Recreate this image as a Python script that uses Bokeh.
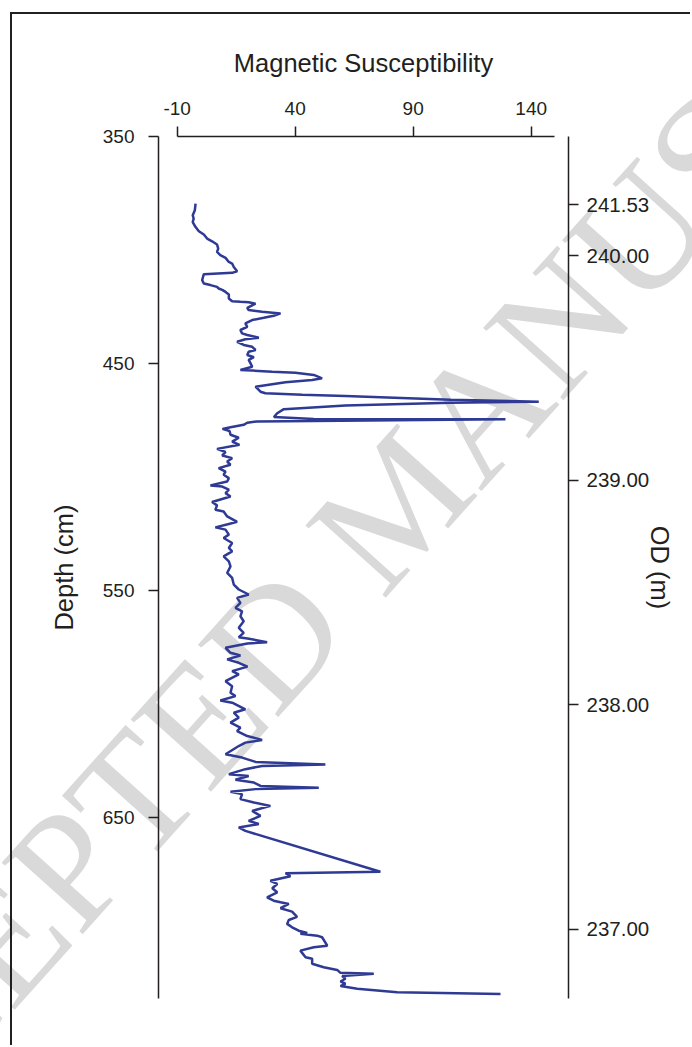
from bokeh.plotting import figure
from bokeh.models import Range1d, LinearAxis, FixedTicker, InlineStyleSheet
from bokeh.embed import file_html
from bokeh.resources import INLINE

# ---- data ----
depth_cm = [379.6, 382.5, 384.7, 386.2, 387.7, 389.9, 391.8, 393.2, 395.0, 396.2,
            397.6, 399.4, 400.9, 402.3, 403.5, 405.3, 406.0, 407.5, 409.4, 410.1,
            410.7, 413.3, 414.8, 415.5, 416.3, 417.0, 417.6, 418.5, 419.6, 421.4,
            422.6, 422.9, 423.1, 423.7, 425.5, 426.5, 427.3, 428.0, 429.0, 429.9,
            430.9, 432.4, 433.9, 435.3, 436.8, 437.5, 438.7, 439.4, 440.5, 441.9,
            442.7, 444.1, 444.9, 446.3, 447.3, 448.5, 450.0, 451.5, 452.9, 453.2,
            453.7, 454.1, 455.1, 456.6, 457.3, 458.3, 460.3, 462.5, 463.2, 463.9,
            464.4, 466.1, 466.9, 467.4, 468.6, 470.2, 472.0, 473.7, 474.5, 474.7,
            475.6, 476.2, 477.1, 478.2, 478.9, 479.8, 481.5, 482.8, 484.5, 485.9,
            487.7, 489.1, 490.6, 491.8, 493.3, 494.7, 496.2, 497.7, 499.1, 500.6,
            502.1, 503.8, 504.3, 505.7, 507.2, 508.7, 511.1, 512.6, 514.5, 515.3,
            517.5, 519.9, 520.8, 522.3, 523.3, 525.5, 527.0, 529.2, 531.4, 532.9,
            535.1, 537.3, 539.5, 542.4, 544.6, 547.5, 549.7, 551.9, 553.4, 555.6,
            557.8, 559.3, 561.5, 563.7, 566.6, 568.8, 570.7, 571.3, 572.9, 573.5,
            575.4, 577.6, 578.8, 580.5, 582.0, 583.7, 585.7, 587.1, 590.1, 592.3,
            595.2, 596.7, 598.6, 599.6, 602.5, 604.0, 606.2, 608.4, 610.6, 612.1,
            614.3, 616.0, 617.2, 618.7, 622.3, 623.8, 625.7, 626.8, 627.5, 628.9,
            631.1, 631.9, 633.6, 634.8, 636.3, 637.1, 637.7, 638.9, 639.9, 642.1,
            643.6, 645.1, 647.3, 649.5, 651.7, 653.1, 654.6, 656.1, 674.1, 674.8,
            676.1, 678.1, 679.5, 681.4, 683.2, 685.4, 686.9, 687.6, 688.3, 690.2,
            691.7, 694.0, 695.4, 697.1, 698.6, 700.1, 701.1, 701.5, 702.3, 703.0,
            706.7, 707.4, 708.9, 711.8, 712.5, 714.7, 716.2, 717.4, 718.7, 719.1,
            720.1, 721.3, 722.5, 723.5, 724.5, 725.7, 727.2, 728.0]

mag_sus = [-2.2, -2.5, -3.4, -3.0, -3.4, -2.2, -0.8, 1.3, 2.7, 4.8,
           6.9, 7.4, 6.9, 8.3, 10.5, 11.9, 13.3, 14.0, 15.4, 13.3,
           1.3, 0.6, 1.3, 4.1, 6.9, 7.6, 9.1, 10.5, 11.9, 11.9,
           13.3, 16.8, 20.3, 23.2, 19.7, 20.3, 26.0, 33.8, 30.9, 26.7,
           21.8, 18.9, 19.7, 16.8, 17.5, 19.7, 24.6, 18.9, 15.4, 18.2,
           21.8, 23.2, 20.3, 19.7, 22.5, 20.3, 21.1, 21.8, 16.8, 21.8,
           30.3, 40.1, 47.9, 51.4, 47.2, 35.9, 23.2, 25.3, 27.4, 43.0,
           61.3, 105.8, 143.2, 105.8, 61.3, 35.2, 32.4, 31.0, 47.9, 129.1,
           23.9, 19.7, 18.2, 12.6, 9.2, 12.2, 12.6, 16.1, 13.3, 16.4,
           6.9, 10.5, 9.1, 13.3, 11.2, 12.6, 7.6, 10.5, 9.7, 11.9,
           11.2, 4.1, 9.1, 11.9, 10.5, 12.6, 4.8, 6.9, 6.2, 9.7,
           11.2, 15.4, 11.9, 6.2, 10.5, 11.9, 9.7, 13.3, 11.9, 13.3,
           9.7, 11.9, 12.6, 11.2, 13.3, 14.0, 16.1, 20.3, 15.4, 16.8,
           14.7, 17.5, 16.8, 18.2, 16.1, 18.2, 16.1, 19.8, 28.1, 19.8,
           10.5, 12.6, 16.8, 11.2, 16.1, 19.8, 13.3, 16.1, 10.5, 13.3,
           12.6, 14.7, 8.3, 13.3, 18.9, 14.0, 16.1, 12.6, 16.8, 15.4,
           19.7, 26.0, 18.9, 16.1, 10.5, 17.5, 23.2, 52.8, 26.0, 18.9,
           11.9, 20.3, 14.7, 22.5, 25.3, 50.0, 23.2, 12.6, 17.5, 16.8,
           22.5, 29.5, 21.8, 25.3, 20.3, 24.6, 16.1, 18.9, 76.1, 35.9,
           38.0, 29.5, 32.4, 30.3, 32.4, 28.1, 30.9, 33.8, 37.3, 33.8,
           38.7, 40.8, 37.3, 36.6, 38.7, 41.5, 45.1, 42.2, 49.3, 51.4,
           53.6, 47.9, 42.2, 44.4, 47.2, 47.2, 52.1, 57.8, 59.2, 73.3,
           59.9, 61.3, 59.2, 61.3, 59.2, 66.3, 83.2, 127.0]

depth_ticks = [350, 450, 550, 650]
ms_ticks = [-10, 40, 90, 140]
od_tick_depths = [380.0, 402.5, 501.5, 600.5, 699.5]
od_tick_labels = ["241.53", "240.00", "239.00", "238.00", "237.00"]
watermark_text = "ACCEPTED MANUSCRIPT"

INK = "#231f20"
FONT = "Liberation Sans"

p = figure(width=680, height=1033,
           x_range=Range1d(-17.9, 155.8), y_range=Range1d(730, 350),
           x_axis_location="above", y_axis_location="left",
           toolbar_location=None, output_backend="svg",
           min_border_left=146, min_border_right=124,
           min_border_top=122, min_border_bottom=49)
p.grid.visible = False
p.outline_line_color = None
p.background_fill_color = None
p.border_fill_color = None
p.styles = {"margin-left": "10px", "margin-top": "12px", "position": "relative",
            "border-top": "2px solid #231f20", "border-left": "2px solid #231f20"}

# watermark of the source page, drawn behind the (transparent) canvas so it
# may run past the plotting frame like in the reference
p.stylesheets = [InlineStyleSheet(css=f"""
:host::before {{
  content: "{watermark_text}";
  position: absolute;
  left: 386px;
  top: 487px;
  transform: translate(-50%, -50%) rotate(-48deg);
  font-family: 'Liberation Serif';
  font-size: 165px;
  line-height: 1;
  color: #d9d9d9;
  white-space: nowrap;
  pointer-events: none;
  z-index: -1;
}}
""")]

ln = p.line(mag_sus, depth_cm, line_color="#2e3a93", line_width=2.5)


def style_axis(ax, ticks, bounds, label, tick_size):
    ax.ticker = FixedTicker(ticks=ticks)
    ax.bounds = bounds
    ax.axis_label = label
    ax.axis_line_color = INK
    ax.axis_line_width = 1.5
    ax.major_tick_line_color = INK
    ax.major_tick_line_width = 1.5
    ax.major_tick_out = 10
    ax.major_tick_in = 0
    ax.minor_tick_line_color = None
    ax.major_label_text_font = FONT
    ax.major_label_text_font_size = tick_size
    ax.major_label_text_color = INK
    ax.axis_label_text_font = FONT
    ax.axis_label_text_font_size = "25.5px"
    ax.axis_label_text_font_style = "normal"
    ax.axis_label_text_color = INK


top = p.xaxis[0]
style_axis(top, ms_ticks, (-10, 150), "Magnetic Susceptibility", "19px")
top.major_label_overrides = {-10: "-10"}
top.major_label_standoff = 12
top.axis_label_standoff = 22

left = p.yaxis[0]
style_axis(left, depth_ticks, (350, 730), "Depth (cm)", "19px")
left.major_label_standoff = 14
left.axis_label_standoff = 22

right = LinearAxis()
style_axis(right, od_tick_depths, (350, 730), "OD (m)", "20.5px")
right.major_label_overrides = dict(zip(od_tick_depths, od_tick_labels))
right.major_label_standoff = 8
right.axis_label_standoff = -6
p.add_layout(right, "right")

open("out.html", "w").write(file_html(p, INLINE))
